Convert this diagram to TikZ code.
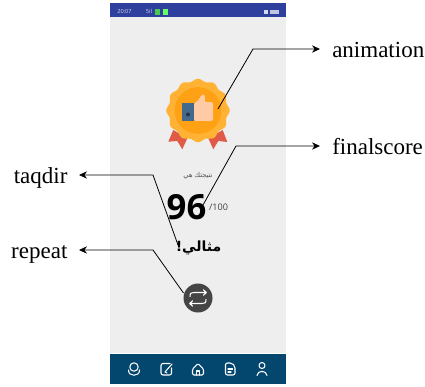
\documentclass[tikz,border=0pt]{standalone}
\usepackage{fontspec}
\setmainfont{Liberation Serif}
\newfontfamily\arabicfont[Script=Arabic]{DejaVu Sans}
\newfontfamily\uifont{Open Sans}
\TeXXeTstate=1
\usetikzlibrary{arrows.meta}
\definecolor{statusblue}{HTML}{2E3F9E}
\definecolor{navblue}{HTML}{03466E}
\definecolor{screengray}{HTML}{EEEEEE}
\definecolor{badgeout}{HTML}{FFB233}
\definecolor{badgein}{HTML}{FFA114}
\definecolor{ribbon}{HTML}{E05A47}
\definecolor{thumbblue}{HTML}{44698F}
\definecolor{thumbskin}{HTML}{FFCBA4}
\definecolor{btn}{HTML}{454545}
\tikzset{
  callout/.style={draw=black,line width=0.6pt,-{Stealth[length=6pt,width=5.5pt]}},
  lblr/.style={font=\fontsize{17.25pt}{20pt}\selectfont,anchor=west,inner ysep=0pt,inner xsep=9pt,text height=15pt,text depth=3pt},
  lbll/.style={font=\fontsize{17.25pt}{20pt}\selectfont,anchor=east,inner ysep=0pt,inner xsep=8.5pt,text height=15pt,text depth=3pt},
  navicon/.style={draw=white,line width=0.6pt,line cap=round,line join=round},
  statustext/.style={text=white!80!statusblue,font=\uifont\fontsize{4.2pt}{5pt}\selectfont,inner sep=0pt},
}
\begin{document}
\begin{tikzpicture}[x=0.75pt,y=-0.75pt]
\useasboundingbox (0,0) rectangle (425,386);
% phone screen
\fill[screengray] (110,17) rectangle (285.5,353);
\fill[statusblue] (110,3) rectangle (285.5,17);
\fill[navblue] (110,354) rectangle (285.5,384);
% status bar
\node[statustext] (clock) at (124.5,12) {20:07};
\node[statustext] (signal) at (149,11.5) {5il};
\fill[green!70!black!70!white] (155,9) rectangle (160,14.5);
\fill[green!60!white] (163,9) rectangle (168,14.5);
\fill[white!80!statusblue] (264,9.5) rectangle (268,13.5);
\fill[white!70!statusblue] (270,9.5) rectangle (279,13.5);
% badge
\fill[ribbon] (173.3,130) -- (168.3,141.7) -- (177.3,141) -- (182.3,149.3) -- (187.3,138.3) -- cycle;
\fill[ribbon] (222.7,130) -- (227.3,142) -- (218.3,141) -- (213.3,149.3) -- (208.3,138.3) -- cycle;
\fill[badgeout] plot[domain=0:360,samples=145,smooth] ({198+(30.5+1.2*cos(12*\x))*cos(\x)},{110.5+(30.5+1.2*cos(12*\x))*sin(\x)}) -- cycle;
\node[circle,fill=badgein,inner sep=0pt,minimum width=35pt] (badge) at (198,110.5) {};
\fill[thumbblue] (182.3,102.5) rectangle (194,121);
\fill[black!50!thumbblue] (188,114.5) circle (2);
\fill[thumbskin,rounded corners=1.5pt] (194,121) -- (194,103) -- (199,100) -- (201,95) -- (204,94) -- (205.5,97) -- (204.5,102) -- (213,102) -- (213,121) -- cycle;
% score
\node[font=\arabicfont\fontsize{5pt}{6pt}\selectfont,text=black!70,inner sep=0pt] (caption) at (198,176) {\beginR نتيجتك هي\endR};
\node[font=\uifont\bfseries\fontsize{26pt}{28pt}\selectfont,inner sep=0pt] (score) at (186.5,207) {96};
\node[font=\uifont\fontsize{6.8pt}{8pt}\selectfont,text=black!75,inner sep=0pt] (total) at (218.5,207) {/100};
\node[font=\arabicfont\bfseries\fontsize{10.5pt}{14pt}\selectfont,inner sep=0pt] (verdict) at (198.5,248) {\beginR مثالي!\endR};
% repeat button
\node[circle,fill=btn,minimum size=21.75pt,inner sep=0pt] (button) at (198,298) {};
\draw[white,line width=0.8pt,line join=round,line cap=round]
  (190,296.5) .. controls (190,293) and (191,292.5) .. (194,292.5) -- (206,292.5)
  (203.5,289.8) -- (206.3,292.5) -- (203.5,295.2)
  (206,299.5) .. controls (206,303) and (205,303.5) .. (202,303.5) -- (190,303.5)
  (192.5,300.8) -- (189.7,303.5) -- (192.5,306.2);
% nav icons
\draw[navicon,line width=0.8pt] (134,367) circle (4.2);
\draw[navicon,line width=0.8pt] (128.5,370) .. controls (128,377) and (140,377) .. (139.5,370);
\draw[navicon,line width=0.8pt,rounded corners=1.5pt] (170,363.5) -- (161,363.5) -- (161,375) -- (171.5,375) -- (171.5,368);
\draw[navicon,line width=0.8pt] (165,372) -- (172,364) (167,373) -- (165,372);
\draw[navicon,line width=0.8pt,rounded corners=1pt] (192.5,369) -- (198,363.5) -- (203.5,369) -- (203.5,375) -- (192.5,375) -- cycle;
\draw[navicon,line width=0.8pt] (196.5,375) -- (196.5,371) -- (199.5,371) -- (199.5,375);
\draw[navicon,line width=0.8pt,rounded corners=1.5pt] (225.5,363) -- (232,363) -- (235,366) -- (235,375) -- (225.5,375) -- cycle;
\draw[navicon,line width=0.8pt] (228,369) -- (232.5,369) (228,372) -- (231,372);
\draw[navicon,line width=0.8pt] (262,365.5) circle (3);
\draw[navicon,line width=0.8pt] (257,375.5) .. controls (257.5,370) and (266.5,370) .. (267,375.5);
% labels
\node[lblr] (animation) at (320,49) {animation};
\node[lblr] (finalscore) at (320,146) {finalscore};
\node[lbll] (taqdir) at (79,175) {taqdir};
\node[lbll] (repeat) at (79,250) {repeat};
% connector ends
\coordinate (aEnd) at (218,109);
\coordinate (aBend) at (253,49);
\coordinate (fEnd) at (203,205);
\coordinate (fBend) at (236,146);
\coordinate (tEnd) at (178,245);
\coordinate (tBend) at (153,175);
\coordinate (rEnd) at (183.5,293);
\coordinate (rBend) at (153,250);
\draw[callout] (aEnd) -- (aBend) -- (animation.west);
\draw[callout] (fEnd) -- (fBend) -- (finalscore.west);
\draw[callout] (tEnd) -- (tBend) -- (taqdir.east);
\draw[callout] (rEnd) -- (rBend) -- (repeat.east);
\end{tikzpicture}
\end{document}
